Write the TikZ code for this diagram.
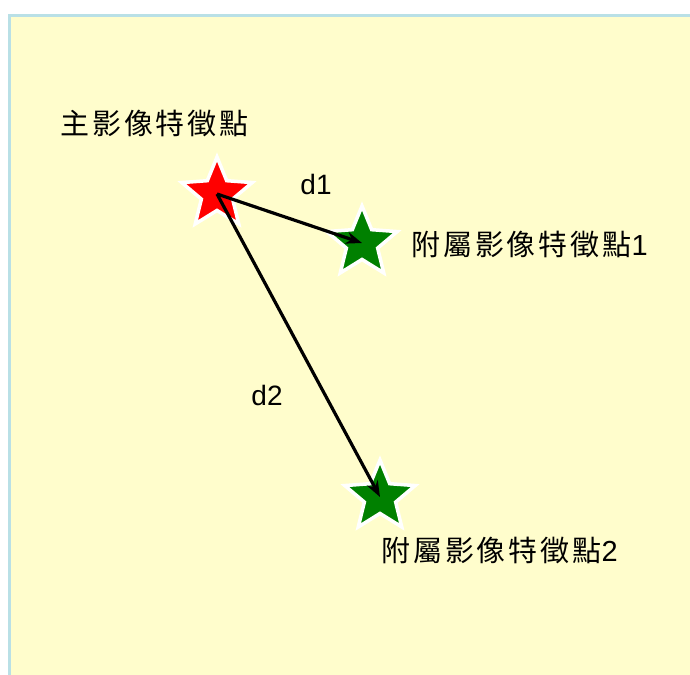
\documentclass[tikz,border=0pt]{standalone}
\usepackage{fontspec}
\setmainfont{Liberation Sans}
\newfontfamily\cjk[LetterSpace=10]{Noto Sans CJK TC}
\usetikzlibrary{shapes.geometric,arrows.meta}
\definecolor{bgyellow}{HTML}{FFFDCC}
\definecolor{bdblue}{HTML}{B9E0E6}
\definecolor{stargreen}{HTML}{008000}
\begin{document}
\begin{tikzpicture}[x=1pt,y=-1pt,
  starnode/.style={star,star points=5,star point ratio=2.25,minimum size=74pt,inner sep=0pt,draw=white,line width=3.5pt},
  cjklabel/.style={inner sep=0pt,anchor=west,font=\cjk\fontsize{29}{29}\selectfont},
  dlabel/.style={inner sep=0pt,font=\fontsize{28}{28}\selectfont},
  arr/.style={line width=3.2pt,-{Stealth[length=16pt,width=12pt]}}]
\useasboundingbox (0,0) rectangle (690,674);
\fill[white] (0,0) rectangle (690,674);
\draw[fill=bgyellow,draw=bdblue,line width=3pt] (9.5,15.5) rectangle (700,690);
\node[starnode,fill=red] (r) at (217,194) {};
\node[starnode,fill=stargreen] (g1) at (362,243) {};
\node[starnode,fill=stargreen] (g2) at (380,497) {};
\draw[arr] (r.center) -- (g1.center);
\draw[arr] (r.center) -- (g2.center);
\node[cjklabel] (lm) at (60,124) {主影像特徵點};
\node[cjklabel] (l1) at (411,245) {附屬影像特徵點\fontspec{Liberation Sans}1};
\node[cjklabel] (l2) at (381,551) {附屬影像特徵點\fontspec{Liberation Sans}2};
\node[dlabel] (d1) at (316,184) {d1};
\node[dlabel] (d2) at (267,395) {d2};
\end{tikzpicture}
\end{document}
